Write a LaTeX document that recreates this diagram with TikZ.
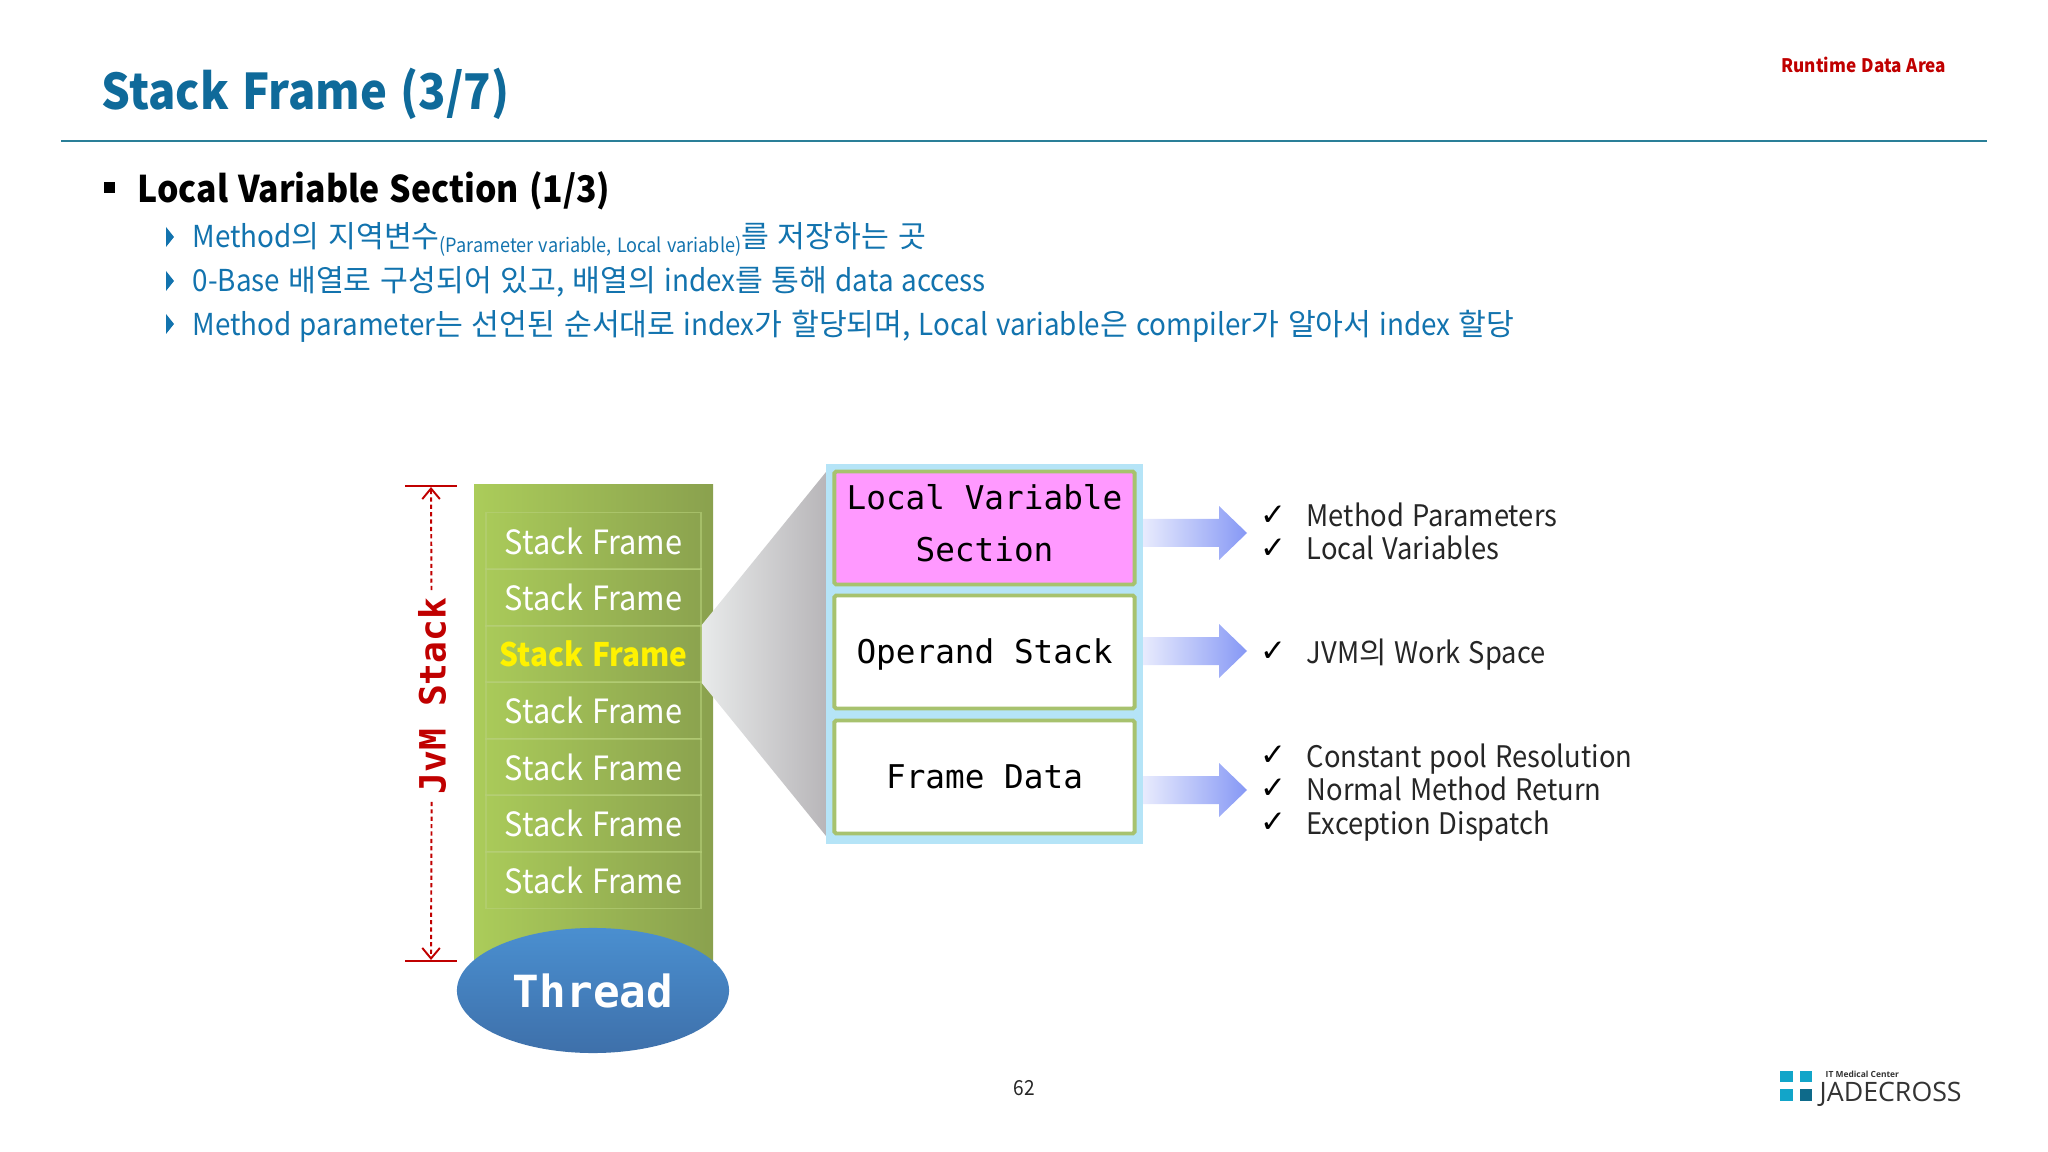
\documentclass[tikz,border=0pt]{standalone}
\usepackage{fontspec}
\setmainfont{Noto Sans CJK KR}[FakeStretch=0.92,WordSpace=1.3]
\newfontfamily\kofont{Noto Sans CJK KR}[WordSpace=1.3]
\newfontfamily\symfont{DejaVu Sans}
\newfontfamily\logofont{Open Sans}
\setmonofont{DejaVu Sans Mono}
\usetikzlibrary{arrows.meta,shapes.geometric}

\definecolor{titleblue}{HTML}{0F6A9A}
\definecolor{rulecol}{HTML}{2A7F98}
\definecolor{bodyblue}{HTML}{1273AE}
\definecolor{darkred}{HTML}{C00000}
\definecolor{panelblue}{HTML}{B5E4F7}
\definecolor{boxgreen}{HTML}{A7C26E}
\definecolor{rowline}{HTML}{B7D07A}
\definecolor{colleft}{HTML}{ABCC5A}
\definecolor{colright}{HTML}{8AA14E}
\definecolor{funleft}{HTML}{E8EAEA}
\definecolor{funright}{HTML}{B8B6B9}
\definecolor{threadtop}{HTML}{4A8FD0}
\definecolor{threadbot}{HTML}{3E70AA}
\definecolor{boxpink}{HTML}{FF99FF}
\definecolor{arrowleft}{HTML}{E8EBFD}
\definecolor{arrowright}{HTML}{8698F5}
\definecolor{logoblue}{HTML}{12A5C9}
\definecolor{logodark}{HTML}{0E6A8A}

\newcommand{\pxs}[2]{\fontsize{#1}{#2}\selectfont}
\newcommand{\ko}[1]{{\kofont #1}}

\tikzset{
  bodyline/.style={anchor=base west,inner sep=0pt,text=bodyblue,font=\pxs{8.6pt}{10pt}},
  framebox/.style={draw=rowline,draw opacity=0.6,line width=0.4pt,minimum width=2.15cm,minimum height=0.566cm,inner sep=0pt,text=white,font=\pxs{9.5pt}{11pt}},
  innerbox/.style={draw=boxgreen,line width=1.1pt,rounded corners=0.5pt,fill=white,minimum width=3.0cm,minimum height=1.13cm,inner sep=0pt,text height=8pt,text depth=1.2pt,font=\ttfamily\pxs{9.3pt}{14.8pt}},
  noteline/.style={anchor=base west,inner sep=0pt,text=black!85,font=\pxs{8.45pt}{10pt}},
  tickmark/.style={inner sep=0pt,font=\symfont\pxs{8.8pt}{9pt}},
  dimline/.style={darkred,line width=0.55pt,dash pattern=on 1.2pt off 0.9pt,-{Straight Barb[length=3pt,width=5pt]}},
  dimbar/.style={darkred,line width=0.8pt},
}

\begin{document}
\begin{tikzpicture}[>=stealth,x=0.01cm,y=-0.01cm]
\useasboundingbox (0,0) rectangle (2048,1152);

% Titolo
\node[anchor=base west,inner sep=0pt,text=titleblue,font=\bfseries\pxs{14pt}{16pt}] (title) at (101,110) {Stack Frame (3/7)};
\node[anchor=east,inner sep=0pt,text=darkred,font=\bfseries\pxs{5.3pt}{6pt}] (area) at (1947,65) {Runtime Data Area};
\draw[rulecol,line width=0.4pt] (61,141) -- (1987,141);

% Testo
\fill[black] (104,182) rectangle (115,193);
\node[anchor=base west,inner sep=0pt,font=\bfseries\pxs{10.45pt}{12pt}] (head) at (137,203) {Local Variable Section (1/3)};
\foreach \yy in {237,281,324}
  \fill[bodyblue] (166,\yy-10) -- (174,\yy) -- (166,\yy+10) -- cycle;
\node[bodyline] (line1) at (192,248) {Method\ko{의 지역변수}\raisebox{-1.3pt}{\pxs{5.6pt}{6pt}(Parameter variable, Local variable)}\ko{를 저장하는 곳}};
\node[bodyline] (line2) at (192,292) {0-Base \ko{배열로 구성되어 있고,} \ko{배열의} index\ko{를 통해} data access};
\node[bodyline] (line3) at (192,336) {Method parameter\ko{는 선언된 순서대로} index\ko{가 할당되며,} Local variable\ko{은} compiler\ko{가 알아서} index \ko{할당}};

% Colonna verde
\shade[left color=colleft,right color=colright] (474,485) rectangle (713,975);
\foreach \i/\yy in {1/541,2/597.5,4/710.5,5/767,6/823.5,7/880}
  \node[framebox] (frame\i) at (593.5,\yy) {Stack Frame};
\node[framebox,text=yellow,font=\bfseries\pxs{9.2pt}{11pt}] (frame3) at (593.5,654) {Stack Frame};

% Imbuto
\shade[left color=funleft,right color=funright] (frame3.north east) -- (826,472) -- (826,836) -- (frame3.south east) -- cycle;

% Thread
\node[ellipse,minimum width=2.72cm,minimum height=1.25cm,inner sep=0pt,text=white,font=\ttfamily\bfseries\pxs{12.6pt}{14pt},top color=threadtop,bottom color=threadbot] (thread) at (593,990.5) {Thread};

% Quota JVM Stack
\coordinate (dimtop) at (431,487);
\coordinate (dimbot) at (431,960);
\node[rotate=90,inner sep=2pt,text=darkred,font=\ttfamily\bfseries\pxs{10.3pt}{12pt}] (jvmlabel) at (432,696) {JvM Stack};
\draw[dimbar] (405,486) -- (457,486);
\draw[dimbar] (405,961) -- (457,961);
\draw[dimline] (jvmlabel) -- (dimtop);
\draw[dimline] (jvmlabel) -- (dimbot);

% Pannello con le sezioni
\node[fill=panelblue,minimum width=3.17cm,minimum height=3.8cm,inner sep=0pt] (panel) at (984.5,654) {};
\node[innerbox,fill=boxpink] (localvar) at (984.5,528) {};
\node[inner sep=0pt,align=center,font=\ttfamily\pxs{9.3pt}{14.8pt}] (localtext) at (984.5,523) {Local Variable\\Section};
\node[innerbox] (operand) at (984.5,652) {Operand Stack};
\node[innerbox] (framedata) at (984.5,777) {Frame Data};

% Frecce
\foreach \yy in {533,651,790}
  \shade[left color=arrowleft,right color=arrowright]
    (1143,\yy-14) -- (1219,\yy-14) -- (1219,\yy-27) -- (1247,\yy) -- (1219,\yy+27) -- (1219,\yy+14) -- (1143,\yy+14) -- cycle;

% Note a destra
\foreach \yy/\tx in {527/Method Parameters,560/Local Variables,663/JVM\ko{의} Work Space,767/Constant pool Resolution,800/Normal Method Return,834/Exception Dispatch}{
  \node[tickmark,anchor=base] at (1273,\yy-2) {✓};
  \node[noteline] at (1306,\yy) {\tx};
}

% Piede
\node[inner sep=0pt,font=\pxs{5.9pt}{7pt},text=black!85] (pagenum) at (1024,1088) {62};
\fill[logoblue] (1780,1071) rectangle (1793,1082);
\fill[logoblue] (1800,1071) rectangle (1812,1082);
\fill[logoblue] (1780,1089) rectangle (1793,1101);
\fill[logodark] (1800,1089) rectangle (1812,1101);
\node[anchor=west,inner sep=0pt,font=\logofont\bfseries\pxs{2.4pt}{3pt},text=black!80] (logotop) at (1825,1074.5) {IT Medical Center};
\node[anchor=base west,inner sep=0pt,font=\logofont\pxs{7.6pt}{8pt},text=black!80] (logomain) at (1819,1101) {JADECROSS};

\end{tikzpicture}
\end{document}
